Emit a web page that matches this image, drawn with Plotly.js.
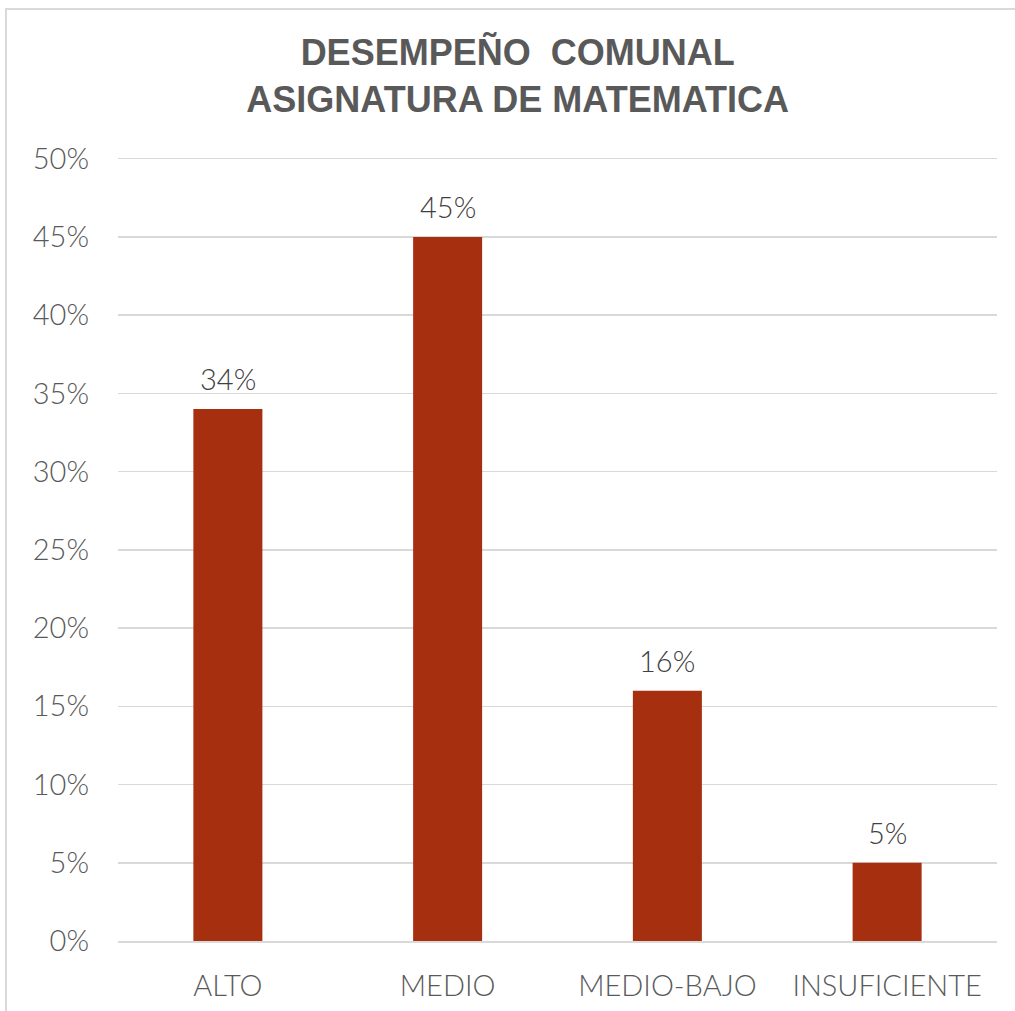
<!DOCTYPE html>
<html>
<head>
<meta charset="utf-8">
<script src="https://cdn.plot.ly/plotly-3.0.1.min.js"></script>
<style>
html,body{margin:0;padding:0;background:#fff;overflow:hidden;}
#chart{width:1015px;height:1011px;position:absolute;left:0;top:0;}
#frame{position:absolute;left:5px;top:8px;width:1020px;height:1010px;border:2px solid #d9d9d9;pointer-events:none;box-sizing:border-box;}
</style>
</head>
<body>
<div id="chart"></div>
<div id="frame"></div>
<script>
const categories = ["ALTO", "MEDIO", "MEDIO-BAJO", "INSUFICIENTE"];
const values = [34, 45, 16, 5];
const yTicks = [0, 5, 10, 15, 20, 25, 30, 35, 40, 45, 50];

const FONT = "Lato, 'DejaVu Sans', sans-serif";

const trace = {
  type: "bar",
  x: categories,
  y: values,
  marker: {color: "#A52F0F"},
  hoverinfo: "none"
};

const annotations = categories.map((c, i) => ({
  x: c,
  y: values[i],
  xref: "x",
  yref: "y",
  text: values[i] + "%",
  showarrow: false,
  yanchor: "bottom",
  yshift: 11,
  font: {family: FONT, size: 29, weight: 300, color: "#404040"}
}));

const layout = {
  width: 1015,
  height: 1011,
  margin: {l: 118, r: 18, t: 154, b: 70},
  paper_bgcolor: "#ffffff",
  plot_bgcolor: "#ffffff",
  showlegend: false,
  bargap: 0.686,
  annotations: annotations,
  title: {
    text: "<b>DESEMPEÑO  COMUNAL<br>ASIGNATURA DE MATEMATICA</b>",
    font: {family: "'Liberation Sans', Arial, sans-serif", size: 36, color: "#595959"},
    x: 0.51, xanchor: "center",
    y: 0.936, yanchor: "middle", yref: "container"
  },
  xaxis: {
    type: "category",
    showgrid: false,
    showline: true,
    linecolor: "#d9d9d9",
    linewidth: 2,
    ticks: "",
    tickfont: {family: FONT, size: 29, weight: 300, color: "#595959"},
    ticklabelstandoff: 18
  },
  yaxis: {
    range: [0, 50.3],
    tickvals: yTicks,
    ticktext: yTicks.map(v => v + "%"),
    showgrid: true,
    gridcolor: "#d9d9d9",
    gridwidth: 1.5,
    zeroline: false,
    showline: false,
    ticks: "",
    tickfont: {family: FONT, size: 29, weight: 300, color: "#595959"},
    ticklabelstandoff: 28
  }
};

Plotly.newPlot("chart", [trace], layout, {staticPlot: true});
</script>
</body>
</html>
